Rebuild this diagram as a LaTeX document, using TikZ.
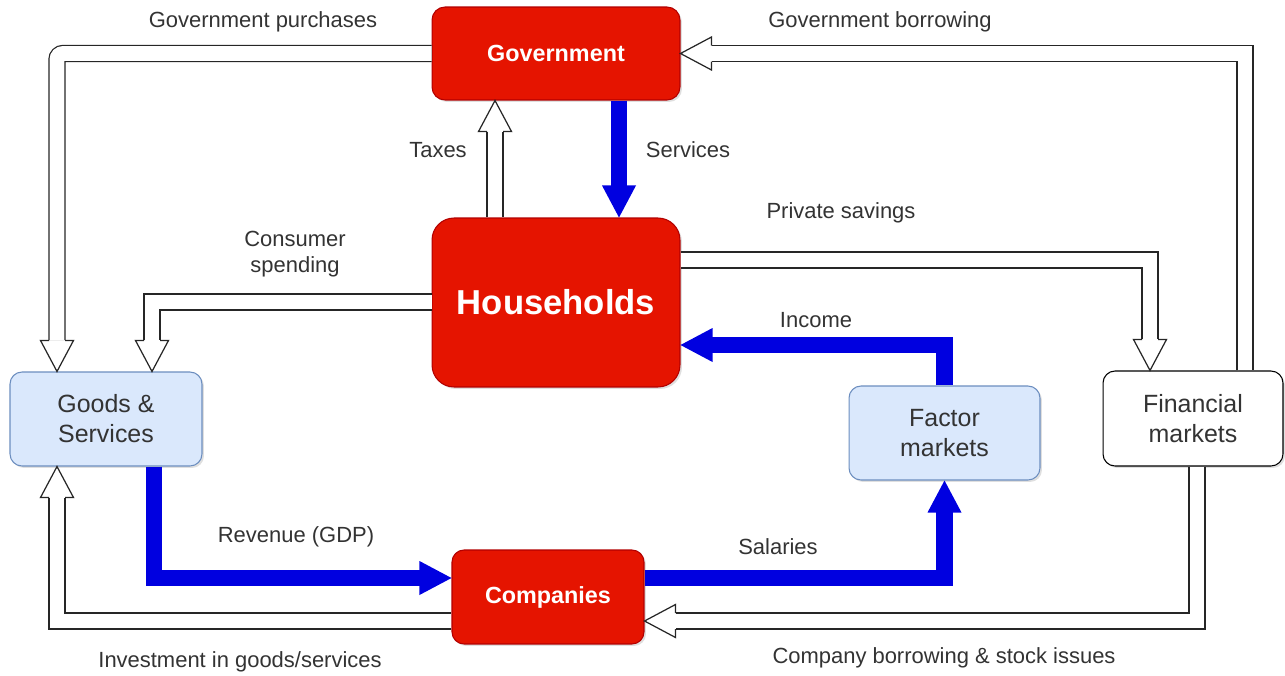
\documentclass[tikz,border=0pt]{standalone}
\usepackage{fontspec}
\setmainfont{Liberation Sans}
\usetikzlibrary{positioning, calc, shadows}

\definecolor{agentred}{HTML}{E51400}
\definecolor{agentedge}{HTML}{B20000}
\definecolor{mktfill}{HTML}{DAE8FC}
\definecolor{mktedge}{HTML}{6C8EBF}
\definecolor{flowblue}{HTML}{0000E0}
\definecolor{labelgrey}{HTML}{333333}

\tikzset{
  box/.style={rectangle, rounded corners=0.24cm, line width=0.6pt, align=center,
    drop shadow={shadow xshift=0.04cm, shadow yshift=-0.04cm, opacity=0.25}},
  agent/.style={box, fill=agentred, draw=agentedge, text=white,
    font=\bfseries\fontsize{13.3}{16}\selectfont},
  market/.style={box, fill=mktfill, draw=mktedge, text=labelgrey,
    font=\fontsize{14.2}{17}\selectfont, minimum width=3.84cm, minimum height=1.88cm},
  flowlabel/.style={text=labelgrey, font=\fontsize{12.5}{14.7}\selectfont, align=center},
  moneyflow/.style={draw=flowblue, line width=9.2pt},
  realflow/.style={draw=black!85, line width=0.7pt, double=white, double distance=8.4pt},
  headline/.style={draw=black!85, line width=0.7pt, fill=white, line join=miter},
}

\newcommand{\openhead}[2]{\filldraw[headline, shift={(#1)}, rotate=#2] (-31,-8) -- (-31,-16.5) -- (0,0) -- (-31,16.5) -- (-31,8);}
\newcommand{\fullhead}[2]{\fill[flowblue, shift={(#1)}, rotate=#2] (-32,-17) -- (0,0) -- (-32,17) -- cycle;}

\begin{document}
\begin{tikzpicture}[x=0.02cm, y=-0.02cm]
\useasboundingbox (0,0) rectangle (1285,676);

\node[agent, minimum width=4.96cm, minimum height=1.86cm, rounded corners=0.26cm] (gov) at (556,53.5) {Government};
\node[agent, below=2.34cm of gov, minimum width=4.96cm, minimum height=3.38cm, rounded corners=0.44cm,
  font=\bfseries\fontsize{19.7}{24}\selectfont] (house) {Households};
\node[market] (goods) at (106,419) {Goods \&\\Services};
\node[market, minimum width=3.82cm] (factor) at (944.5,433) {Factor\\markets};
\node[market, fill=white, draw=black, minimum width=3.6cm, minimum height=1.9cm] (fin) at (1193,418.5) {Financial\\markets};
\node[agent, minimum width=3.84cm, minimum height=1.88cm] (comp) at (548,597) {Companies};

% arrow tips
\coordinate (gpT) at (goods.north -| 57,0);
\coordinate (csT) at (goods.north -| 152,0);
\coordinate (taxT) at (gov.south -| 495,0);
\coordinate (gbT) at (gov.east);
\coordinate (psT) at (fin.north -| 1150,0);
\coordinate (invT) at (goods.south -| 57,0);
\coordinate (cbT) at (comp.east |- 0,621);
\coordinate (serT) at (house.north -| 619,0);
\coordinate (incT) at (house.east |- 0,345);
\coordinate (revT) at (comp.west |- 0,578);
\coordinate (salT) at (factor.south);

\draw[realflow, rounded corners=0.12cm] (gov.west) -| ([yshift=0.62cm]gpT);
\openhead{gpT}{-90}
\draw[realflow] (house.west |- 0,302) -| ([yshift=0.62cm]csT);
\openhead{csT}{-90}
\draw[realflow] (house.north -| taxT) -- ([yshift=-0.62cm]taxT);
\openhead{taxT}{90}
\draw[realflow] (fin.north -| 1245,0) |- ([xshift=0.62cm]gbT);
\openhead{gbT}{180}
\draw[realflow] (house.east |- 0,260) -| ([yshift=0.62cm]psT);
\openhead{psT}{-90}
\draw[realflow] (comp.west |- 0,621) -| ([yshift=-0.62cm]invT);
\openhead{invT}{90}
\draw[realflow] (fin.south -| 1197,0) |- ([xshift=0.62cm]cbT);
\openhead{cbT}{180}

\draw[moneyflow] (gov.south -| serT) -- ([yshift=0.62cm]serT);
\fullhead{serT}{-90}
\draw[moneyflow] (factor.north) |- ([xshift=0.62cm]incT);
\fullhead{incT}{180}
\draw[moneyflow] (goods.south -| 154,0) |- ([xshift=-0.62cm]revT);
\fullhead{revT}{0}
\draw[moneyflow] (comp.east |- revT) -| ([yshift=-0.62cm]salT);
\fullhead{salT}{90}

\node[flowlabel] (lgp) at (263,22) {Government purchases};
\node[flowlabel] (lgb) at (880,22) {Government borrowing};
\node[flowlabel] (ltax) at (438,150) {Taxes};
\node[flowlabel] (lser) at (688,150) {Services};
\node[flowlabel] (lps) at (841,213) {Private savings};
\node[flowlabel] (lcs) at (295,254) {Consumer\\spending};
\node[flowlabel] (linc) at (816,320) {Income};
\node[flowlabel] (lrev) at (296,537) {Revenue (GDP)};
\node[flowlabel] (lsal) at (778,547) {Salaries};
\node[flowlabel] (linv) at (240,662) {Investment in goods/services};
\node[flowlabel] (lcb) at (944,658) {Company borrowing \& stock issues};
\end{tikzpicture}
\end{document}
